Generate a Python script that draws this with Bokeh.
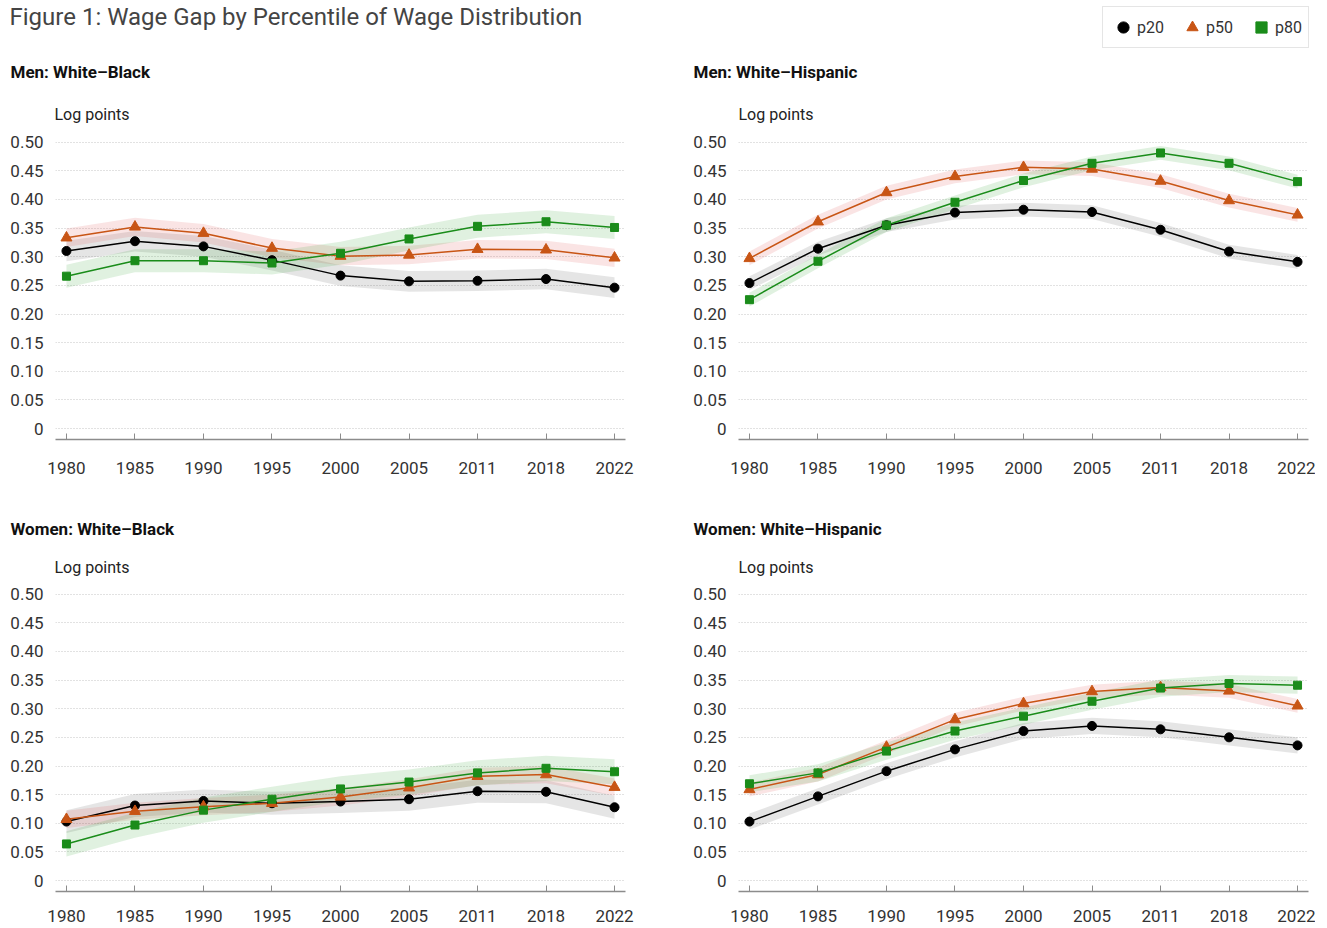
import numpy as np
from bokeh.plotting import figure
from bokeh.models import (Range1d, FixedTicker, PrintfTickFormatter, Label,
                          Legend, LegendItem)
from bokeh.layouts import column, row
from bokeh.embed import file_html
from bokeh.resources import INLINE

# ---------------- data ----------------
years = ["1980", "1985", "1990", "1995", "2000", "2005", "2011", "2018", "2022"]
series_names = ["p20", "p50", "p80"]
y_ticks = [0, 0.05, 0.1, 0.15, 0.2, 0.25, 0.3, 0.35, 0.4, 0.45, 0.5]
panel_titles = ["Men: White\u2013Black", "Men: White\u2013Hispanic",
                "Women: White\u2013Black", "Women: White\u2013Hispanic"]

men_wb_p20 = [0.310, 0.327, 0.318, 0.294, 0.267, 0.257, 0.258, 0.261, 0.246]
men_wb_p50 = [0.333, 0.352, 0.341, 0.315, 0.301, 0.303, 0.313, 0.312, 0.298]
men_wb_p80 = [0.266, 0.293, 0.293, 0.289, 0.306, 0.331, 0.353, 0.361, 0.351]
men_wb_ci = [0.018, 0.016, 0.020]

men_wh_p20 = [0.254, 0.314, 0.355, 0.377, 0.382, 0.378, 0.347, 0.309, 0.291]
men_wh_p50 = [0.297, 0.361, 0.412, 0.440, 0.456, 0.453, 0.432, 0.398, 0.373]
men_wh_p80 = [0.225, 0.292, 0.355, 0.395, 0.433, 0.463, 0.481, 0.463, 0.431]
men_wh_ci = [0.012, 0.012, 0.012]

women_wb_p20 = [0.103, 0.131, 0.139, 0.135, 0.138, 0.142, 0.156, 0.155, 0.128]
women_wb_p50 = [0.107, 0.121, 0.129, 0.135, 0.146, 0.162, 0.182, 0.185, 0.163]
women_wb_p80 = [0.064, 0.097, 0.123, 0.142, 0.160, 0.172, 0.188, 0.196, 0.190]
women_wb_ci = [0.020, 0.015, 0.022]

women_wh_p20 = [0.103, 0.147, 0.191, 0.229, 0.261, 0.270, 0.264, 0.250, 0.236]
women_wh_p50 = [0.159, 0.185, 0.233, 0.281, 0.309, 0.330, 0.337, 0.331, 0.305]
women_wh_p80 = [0.169, 0.188, 0.226, 0.261, 0.287, 0.313, 0.336, 0.344, 0.341]
women_wh_ci = [0.014, 0.012, 0.015]

# ---------------- style ----------------
FONT = "Roboto"
COLORS = ["#000000", "#c85515", "#1a8c1a"]
BAND_COLORS = ["#000000", "#e04848", "#2ca02c"]
BAND_ALPHAS = [0.10, 0.15, 0.15]
MARKERS = ["circle", "triangle", "square"]
SIZES = [9, 11, 8]
FRAME_H = 306
FRAME_W = 570
LEFT_W = 683
RIGHT_W = 632
TOTAL_W = LEFT_W + RIGHT_W


def make_panel(vals, ci, width, mb_right, height, x_standoff):
    p = figure(width=width, height=height, output_backend="svg",
               toolbar_location=None, title=None,
               x_range=Range1d(-0.16, len(years) - 1 + 0.16),
               y_range=Range1d(-0.019, 0.515),
               min_border_left=55, min_border_right=mb_right,
               min_border_top=0,
               min_border_bottom=height - FRAME_H)
    p.outline_line_color = None
    p.background_fill_color = "white"
    x = np.arange(len(years))
    for v, c, bc, ba in zip(vals, ci, BAND_COLORS, BAND_ALPHAS):
        arr = np.array(v)
        p.varea(x=x, y1=arr - c, y2=arr + c, fill_color=bc, fill_alpha=ba)
    for v, col in zip(vals, COLORS):
        p.line(x=x, y=v, line_color=col, line_width=1.5)
    for v, col, m, s in zip(vals, COLORS, MARKERS, SIZES):
        p.scatter(x=x, y=v, marker=m, size=s, fill_color=col, line_color=col)

    xa = p.xaxis[0]
    xa.ticker = FixedTicker(ticks=list(range(len(years))))
    xa.major_label_overrides = {i: yv for i, yv in enumerate(years)}
    xa.axis_line_color = "#8c8c8c"
    xa.axis_line_width = 1.5
    xa.major_tick_in = 6
    xa.major_tick_out = 0
    xa.major_tick_line_color = "#8c8c8c"
    xa.minor_tick_line_color = None
    xa.major_label_standoff = x_standoff
    xa.major_label_text_font = FONT
    xa.major_label_text_font_size = "17px"
    xa.major_label_text_color = "#333333"

    ya = p.yaxis[0]
    ya.ticker = FixedTicker(ticks=y_ticks)
    ya.formatter = PrintfTickFormatter(format="%.2f")
    ya.major_label_overrides = {0: "0"}
    ya.axis_line_color = None
    ya.major_tick_line_color = None
    ya.minor_tick_line_color = None
    ya.major_label_standoff = 6
    ya.major_label_text_font = FONT
    ya.major_label_text_font_size = "17px"
    ya.major_label_text_color = "#333333"

    p.xgrid.visible = False
    p.ygrid.grid_line_color = "#c4c4c4"
    p.ygrid.grid_line_dash = "1 2"
    p.ygrid.grid_line_width = 1
    return p


def make_header(height, left_title, right_title, sub_y, log_y):
    h = figure(width=TOTAL_W, height=height, output_backend="svg",
               toolbar_location=None, x_range=Range1d(100, 101),
               y_range=Range1d(100, 101), min_border=0,
               x_axis_location=None, y_axis_location=None, title=None)
    h.outline_line_color = None
    h.grid.visible = False
    for xs, txt in [(10, left_title), (LEFT_W + 10, right_title)]:
        h.add_layout(Label(x=xs, y=sub_y, x_units="screen", y_units="screen",
                           text=txt, text_align="left", text_baseline="middle",
                           text_font=FONT, text_font_style="bold",
                           text_font_size="17px", text_color="#111111"))
    for xs in [54, LEFT_W + 55]:
        h.add_layout(Label(x=xs, y=log_y, x_units="screen", y_units="screen",
                           text="Log points", text_align="left",
                           text_baseline="middle", text_font=FONT,
                           text_font_size="16px", text_color="#222222"))
    return h


# ---------------- header with title and legend ----------------
HEAD1_H = 133
head1 = make_header(HEAD1_H, panel_titles[0], panel_titles[1], HEAD1_H - 71, HEAD1_H - 114)
head1.add_layout(Label(x=9, y=HEAD1_H - 16, x_units="screen", y_units="screen",
                       text="Figure 1: Wage Gap by Percentile of Wage Distribution",
                       text_align="left", text_baseline="middle",
                       text_font=FONT, text_font_size="24px",
                       text_color="#444444"))
items = []
x_idx = np.arange(len(years))
for name, vals, col, m in zip(series_names, [men_wb_p20, men_wb_p50, men_wb_p80],
                              COLORS, MARKERS):
    # drawn outside the header's visible range: used only for legend swatches
    r = head1.scatter(x=x_idx, y=vals, marker=m, size=10, fill_color=col, line_color=col)
    items.append(LegendItem(label=name, renderers=[r]))
legend = Legend(items=items, orientation="horizontal", location=(1102, HEAD1_H - 48),
                margin=0, padding=6, spacing=14, glyph_width=28, glyph_height=28,
                label_standoff=0, label_text_font=FONT,
                label_text_font_size="16px", label_text_color="#333333",
                border_line_color="#cccccc", border_line_width=1,
                background_fill_color="white")
head1.add_layout(legend)

# ---------------- panels ----------------
ROW1_H = 367
ROW2_H = 342
tl = make_panel([men_wb_p20, men_wb_p50, men_wb_p80], men_wb_ci,
                LEFT_W, LEFT_W - 55 - FRAME_W, ROW1_H, 22)
tr = make_panel([men_wh_p20, men_wh_p50, men_wh_p80], men_wh_ci,
                RIGHT_W, RIGHT_W - 55 - FRAME_W, ROW1_H, 22)

HEAD2_H = 85
head2 = make_header(HEAD2_H, panel_titles[2], panel_titles[3], HEAD2_H - 28, 18)

bl = make_panel([women_wb_p20, women_wb_p50, women_wb_p80], women_wb_ci,
                LEFT_W, LEFT_W - 55 - FRAME_W, ROW2_H, 18)
br = make_panel([women_wh_p20, women_wh_p50, women_wh_p80], women_wh_ci,
                RIGHT_W, RIGHT_W - 55 - FRAME_W, ROW2_H, 18)

layout = column(head1, row(tl, tr), head2, row(bl, br))

with open("out.html", "w") as f:
    f.write(file_html(layout, INLINE))
